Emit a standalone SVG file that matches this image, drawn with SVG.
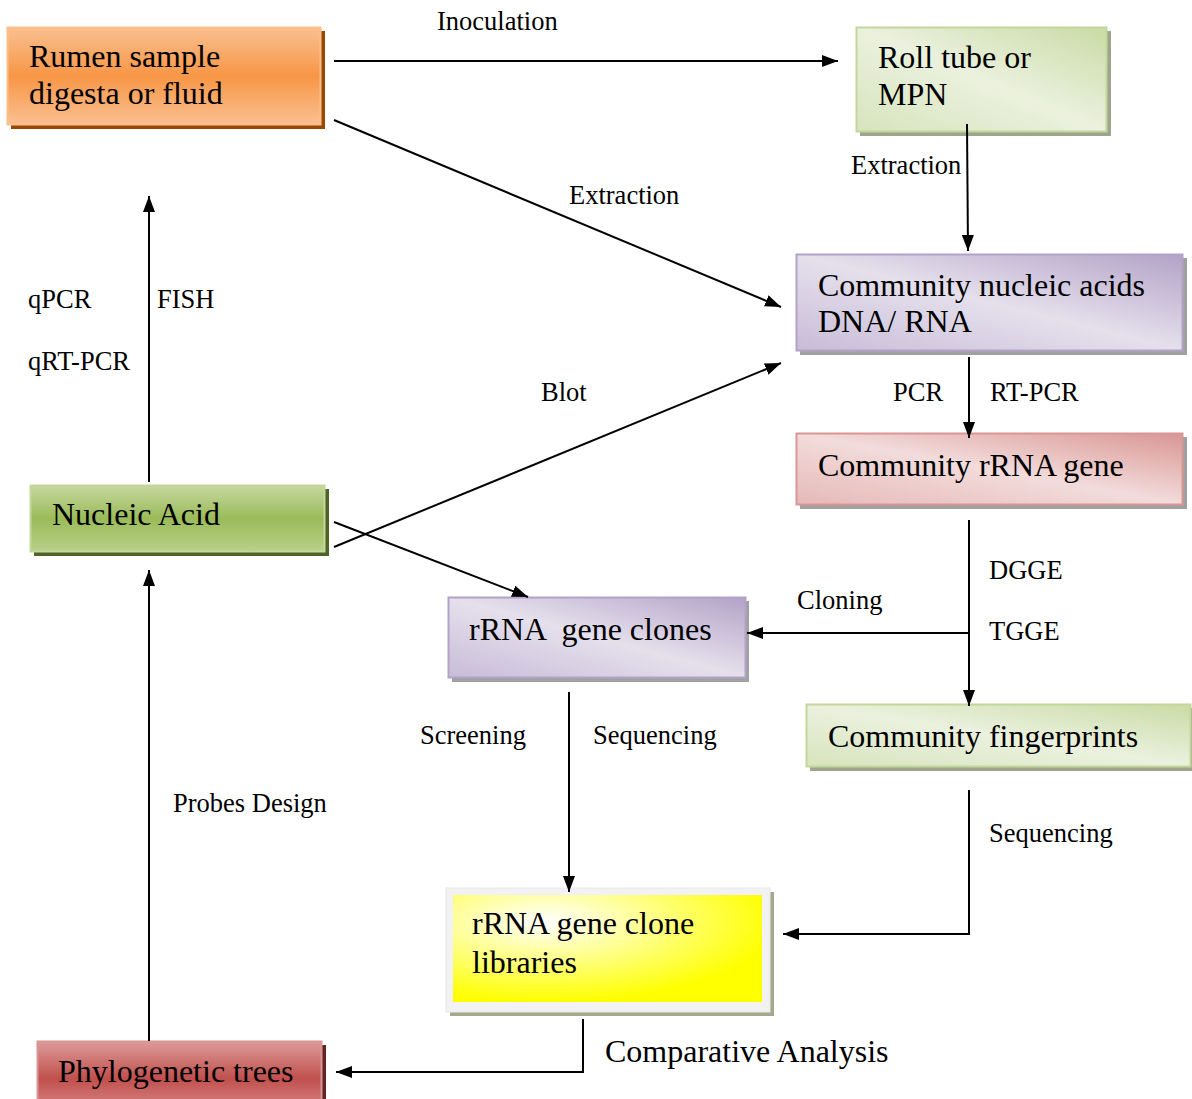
<svg xmlns="http://www.w3.org/2000/svg" width="1192" height="1099" viewBox="0 0 1192 1099">
<defs>
<linearGradient id="gOrange" x1="0" y1="0" x2="0" y2="1">
<stop offset="0" stop-color="#fac090"/><stop offset="0.5" stop-color="#f79646"/><stop offset="1" stop-color="#fac090"/>
</linearGradient>
<linearGradient id="gGreen" x1="0" y1="0" x2="0" y2="1">
<stop offset="0" stop-color="#c5d89f"/><stop offset="0.5" stop-color="#9bbb59"/><stop offset="1" stop-color="#b9d08a"/>
</linearGradient>
<linearGradient id="gRed" x1="0" y1="0" x2="0" y2="1">
<stop offset="0" stop-color="#dc9b99"/><stop offset="0.6" stop-color="#c0504d"/><stop offset="1" stop-color="#d37b78"/>
</linearGradient>
<linearGradient id="gLGreen" x1="0" y1="1" x2="1" y2="0">
<stop offset="0" stop-color="#d7e4bd"/><stop offset="0.5" stop-color="#ebf1de"/><stop offset="1" stop-color="#c9dba5"/>
</linearGradient>
<linearGradient id="gPurple" x1="0" y1="1" x2="1" y2="0">
<stop offset="0" stop-color="#c8bcd8"/><stop offset="0.5" stop-color="#e5e0ec"/><stop offset="1" stop-color="#b3a2c7"/>
</linearGradient>
<linearGradient id="gPink" x1="0" y1="1" x2="1" y2="0">
<stop offset="0" stop-color="#e6b9b8"/><stop offset="0.5" stop-color="#f2dcdb"/><stop offset="1" stop-color="#d99694"/>
</linearGradient>
<radialGradient id="gYellow" cx="0.3" cy="0.25" r="0.75">
<stop offset="0" stop-color="#ffffff"/><stop offset="1" stop-color="#ffff00"/>
</radialGradient>
<marker id="arr" viewBox="0 0 16 12" refX="16" refY="6" markerWidth="16" markerHeight="12" markerUnits="userSpaceOnUse" orient="auto">
<path d="M0,0 L16,6 L0,12 Z" fill="#000"/>
</marker>
<style>
.node{font-family:"Liberation Serif","Times New Roman",serif;font-size:32px;fill:#000}
.lbl{font-family:"Liberation Serif","Times New Roman",serif;font-size:26.5px;fill:#000}
.ln{stroke:#000;stroke-width:2;fill:none}
.ar{stroke:#000;stroke-width:2;fill:none;marker-end:url(#arr)}
</style>
</defs>

<g id="rumen">
<rect x="11" y="31" width="314" height="98" fill="#984807"/>
<rect x="7.5" y="27.5" width="313" height="97" fill="url(#gOrange)" stroke="#fbbf8a" stroke-width="2"/>
<text class="node" x="29" y="67">Rumen sample</text>
<text class="node" x="29" y="104">digesta or fluid</text>
</g>

<g id="rolltube">
<rect x="860" y="31" width="251" height="105" fill="#9ea58c"/>
<rect x="856.5" y="27.5" width="250" height="104" fill="url(#gLGreen)" stroke="#c3d69b" stroke-width="2"/>
<text class="node" x="878" y="68">Roll tube or</text>
<text class="node" x="878" y="105">MPN</text>
</g>

<g id="nucleicacids">
<rect x="800" y="258" width="387" height="97" fill="#a0a0a0"/>
<rect x="796.5" y="254.5" width="386" height="96" fill="url(#gPurple)" stroke="#b3a2c7" stroke-width="2"/>
<text class="node" x="818" y="296">Community nucleic acids</text>
<text class="node" x="818" y="332">DNA/ RNA</text>
</g>

<g id="rrnagene">
<rect x="800" y="437" width="387" height="72" fill="#a0a0a0"/>
<rect x="796.5" y="433.5" width="386" height="71" fill="url(#gPink)" stroke="#d99694" stroke-width="2"/>
<text class="node" x="818" y="476">Community rRNA gene</text>
</g>

<g id="nucleicacid">
<rect x="34" y="489" width="295" height="67" fill="#4f6228"/>
<rect x="30.5" y="485.5" width="294" height="66" fill="url(#gGreen)" stroke="#c3d69b" stroke-width="2"/>
<text class="node" x="52" y="525">Nucleic Acid</text>
</g>

<g id="clones">
<rect x="452" y="601" width="297" height="81" fill="#a0a0a0"/>
<rect x="448.5" y="597.5" width="297" height="80" fill="url(#gPurple)" stroke="#b3a2c7" stroke-width="2"/>
<text class="node" x="469" y="640" xml:space="preserve">rRNA  gene clones</text>
</g>

<g id="fingerprints">
<rect x="810" y="708" width="382" height="63" fill="#9ea58c"/>
<rect x="806.5" y="704.5" width="384" height="62" fill="url(#gLGreen)" stroke="#c3d69b" stroke-width="2"/>
<text class="node" x="828" y="747">Community fingerprints</text>
</g>

<g id="libraries">
<rect x="450" y="892" width="324" height="124" fill="#a5a88c"/>
<rect x="446" y="888" width="324" height="124" fill="#f2f2f2" stroke="#e8e8e8" stroke-width="1"/>
<rect x="453" y="895" width="309" height="107" fill="url(#gYellow)"/>
<text class="node" x="472" y="934">rRNA gene clone</text>
<text class="node" x="472" y="973">libraries</text>
</g>

<g id="phylo">
<rect x="41" y="1045" width="285" height="60" fill="#632523"/>
<rect x="37.5" y="1041.5" width="284" height="62" fill="url(#gRed)" stroke="#d99694" stroke-width="2"/>
<text class="node" x="58" y="1082">Phylogenetic trees</text>
</g>

<g id="connectors">
<line class="ar" x1="334" y1="61" x2="838" y2="61"/>
<line class="ar" x1="334" y1="120" x2="781" y2="307"/>
<line class="ar" x1="967" y1="124" x2="968" y2="251"/>
<line class="ar" x1="969" y1="357" x2="969" y2="438"/>
<line class="ar" x1="334" y1="547" x2="781" y2="363"/>
<line class="ar" x1="334" y1="522" x2="528" y2="597"/>
<line class="ar" x1="149" y1="482" x2="149" y2="196"/>
<line class="ar" x1="969" y1="520" x2="969" y2="706"/>
<line class="ar" x1="969" y1="633" x2="747" y2="633"/>
<line class="ar" x1="569" y1="692" x2="569" y2="892"/>
<polyline class="ar" points="969,790 969,934 783,934"/>
<polyline class="ar" points="583,1019 583,1072 336,1072"/>
<line class="ar" x1="149" y1="1041" x2="149" y2="570"/>
<text class="lbl" x="437" y="30">Inoculation</text>
<text class="lbl" x="569" y="204">Extraction</text>
<text class="lbl" x="851" y="174">Extraction</text>
<text class="lbl" x="28" y="308">qPCR</text>
<text class="lbl" x="157" y="308">FISH</text>
<text class="lbl" x="28" y="370">qRT-PCR</text>
<text class="lbl" x="541" y="401">Blot</text>
<text class="lbl" x="893" y="401">PCR</text>
<text class="lbl" x="990" y="401">RT-PCR</text>
<text class="lbl" x="989" y="579">DGGE</text>
<text class="lbl" x="989" y="640">TGGE</text>
<text class="lbl" x="797" y="609">Cloning</text>
<text class="lbl" x="420" y="744">Screening</text>
<text class="lbl" x="593" y="744">Sequencing</text>
<text class="lbl" x="173" y="812">Probes Design</text>
<text class="lbl" x="989" y="842">Sequencing</text>
<text class="node" x="605" y="1062">Comparative Analysis</text>
</g>
</svg>
